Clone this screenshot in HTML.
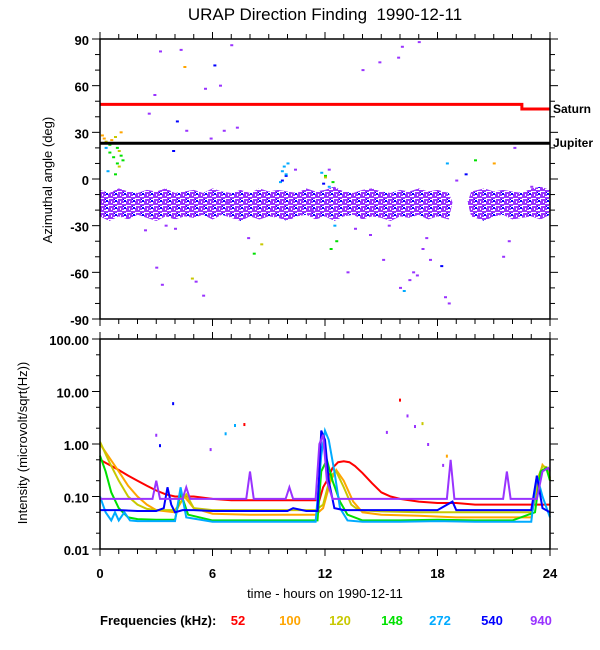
<!DOCTYPE html>
<html><head><meta charset="utf-8"><style>
html,body{margin:0;padding:0;background:#fff;}
svg{display:block;font-family:"Liberation Sans",Arial,sans-serif;}
</style></head><body>
<svg id="chart" width="600" height="650" viewBox="0 0 600 650" xmlns="http://www.w3.org/2000/svg">
<defs>
<pattern id="bandpat" width="9" height="7" patternUnits="userSpaceOnUse">
<rect x="0" y="0" width="9" height="7" fill="#fff"/>
<rect x="0" y="0" width="5" height="2" fill="#9933ff"/>
<rect x="5" y="1" width="4" height="2" fill="#9933ff"/>
<rect x="1" y="3" width="5" height="2" fill="#9933ff"/>
<rect x="7" y="4" width="2" height="2" fill="#0000ff"/>
<rect x="0" y="5" width="3" height="2" fill="#9933ff"/>
<rect x="4" y="5" width="3" height="2" fill="#9933ff"/>
<rect x="6" y="3" width="1" height="1" fill="#0000ff"/>
</pattern>
</defs>
<text x="325" y="20" font-size="17" text-anchor="middle" style="white-space:pre">URAP Direction Finding  1990-12-11</text>
<g id="topg"></g>
<g id="botg"></g>
<text transform="translate(52,180) rotate(-90)" font-size="13" text-anchor="middle">Azimuthal angle (deg)</text>
<text transform="translate(27,443) rotate(-90)" font-size="13" text-anchor="middle">Intensity (microvolt/sqrt(Hz))</text>
<text x="325" y="598" font-size="13" text-anchor="middle">time - hours on 1990-12-11</text>
<g id="legend"></g>
</svg>
<script>
const freqLabels=["52","100","120","148","272","540","940"];
const colors=["#ff0000","#ffa500","#c8c800","#00e000","#00aaff","#0000ff","#9933ff"];
const xTicks=[0,6,12,18,24];
const angTicks=[90,60,30,0,-30,-60,-90];
const intTicks=[100,10,1,0.1,0.01];
const intTickLabels=["100.00","10.00","1.00","0.10","0.01"];
const saturnH=[0,22.5,22.5,24];
const saturnDeg=[48,48,45,45];
const jupiterH=[0,24];
const jupiterDeg=[23,23];
const bandH=[0,0.5,1,1.5,2,2.5,3,3.5,4,4.5,5,5.5,6,6.5,7,7.5,8,8.5,9,9.5,10,10.5,11,11.5,12,12.5,13,13.5,14,14.5,15,15.5,16,16.5,17,17.5,18,18.6,18.8,19.6,19.8,20.5,21,21.5,22,22.5,23,23.5,24];
const bandLo=[-24,-27,-24,-26,-23,-25,-27,-24,-26,-24,-25,-23,-26,-23,-25,-27,-24,-26,-24,-25,-27,-24,-23,-26,-24,-27,-24,-23,-26,-24,-25,-27,-24,-25,-23,-26,-24,-26,-15,-15,-24,-27,-24,-23,-26,-25,-24,-26,-23];
const bandHi=[-7,-9,-6,-8,-9,-7,-8,-6,-9,-8,-7,-9,-6,-8,-9,-7,-9,-6,-8,-7,-8,-9,-6,-8,-7,-5,-8,-9,-7,-6,-8,-9,-7,-8,-6,-8,-7,-9,-15,-15,-8,-6,-8,-7,-8,-9,-6,-5,-7];
const ptH=[0.1,0.2,0.3,0.5,0.6,0.8,0.9,1.0,1.1,1.2,0.3,0.5,0.7,0.9,0.4,0.8,1.0,1.1,2.6,2.9,3.2,3.0,3.3,4.3,4.5,4.9,5.1,5.5,6.1,6.4,7.0,3.5,4.0,4.6,5.9,6.6,7.3,2.4,3.9,4.1,5.6,9.6,9.7,9.8,9.9,10.0,9.7,9.9,11.8,11.9,12.0,12.2,12.4,12.5,12.6,12.3,12.0,12.2,8.2,8.6,13.6,14.4,15.1,16.0,16.2,16.5,16.7,16.9,17.2,17.4,18.2,18.4,18.6,17.0,16.1,15.9,14.9,14.0,19.0,19.5,20.0,21.0,21.5,21.8,22.1,23.0,18.5,17.6,11.3,7.9,6.8,10.4,15.4,13.2];
const ptDeg=[28,26,24,22,25,27,20,18,15,12,20,17,14,10,5,3,8,30,42,54,82,-57,-68,83,72,-64,-66,-75,73,60,86,-30,-32,31,26,31,33,-33,18,37,58,-2,5,8,2,10,-1,3,4,-3,2,-5,-2,-30,-40,-45,1,6,-48,-42,-32,-36,-52,-70,-72,-65,-60,-62,-45,-38,-56,-76,-80,88,85,78,75,70,-1,3,12,10,-50,-40,20,-5,10,-52,-20,-38,-15,6,-30,-60];
const ptC=[1,1,2,3,1,2,3,2,3,3,4,3,3,3,4,3,2,1,6,6,6,6,6,6,1,2,6,6,5,6,6,6,6,6,6,6,6,6,5,5,6,4,4,4,5,4,5,4,4,5,3,4,3,4,3,3,2,6,3,2,6,6,6,6,4,6,6,6,6,6,5,6,6,6,6,6,6,6,6,5,3,1,6,6,6,6,4,6,6,6,6,6,6,6];
const redH=[0,0.5,1,1.5,2,2.5,3,3.5,4,5,6,7,8,9,10,11,11.7,11.9,12.1,12.4,12.7,13,13.3,13.6,14,14.5,15,15.5,16,17,18,19,20,21,22,23,23.5,24];
const redV=[0.5,0.4,0.32,0.25,0.2,0.16,0.13,0.11,0.1,0.1,0.09,0.085,0.085,0.085,0.085,0.085,0.085,0.15,0.2,0.35,0.45,0.47,0.45,0.38,0.28,0.18,0.12,0.1,0.09,0.08,0.075,0.075,0.07,0.07,0.07,0.07,0.07,0.07];
const orangeH=[0,0.5,1,1.5,2,2.5,3,4,4.5,5,6,8,10,11.5,11.9,12.3,12.6,13,13.5,14,15,17,19,21,23,23.3,23.6,23.9,24];
const orangeV=[1.0,0.55,0.3,0.16,0.1,0.07,0.055,0.05,0.1,0.06,0.047,0.045,0.045,0.045,0.06,0.2,0.32,0.2,0.08,0.05,0.045,0.043,0.04,0.04,0.04,0.15,0.4,0.3,0.2];
const yellowH=[0,0.5,1,1.5,2,2.5,3,4,4.6,5,6,8,10,11.5,11.9,12.3,12.6,13,13.4,13.8,15,17,19,21,23,23.3,23.6,23.9,24];
const yellowV=[1.1,0.45,0.2,0.1,0.07,0.058,0.055,0.055,0.11,0.06,0.055,0.055,0.055,0.055,0.07,0.25,0.3,0.15,0.07,0.055,0.052,0.05,0.05,0.05,0.05,0.2,0.38,0.35,0.22];
const greenH=[0,0.3,0.6,1,1.5,2,3,4,4.3,4.7,6,8,10,11.6,11.8,12.1,12.4,12.8,13.2,14,16,18,20,22,23.2,23.5,23.8,24];
const greenV=[0.6,0.3,0.12,0.06,0.04,0.037,0.036,0.036,0.12,0.045,0.035,0.035,0.035,0.035,0.3,0.5,0.2,0.08,0.045,0.035,0.035,0.036,0.035,0.035,0.05,0.3,0.35,0.2];
const cyanH=[0,0.3,0.6,0.8,1.0,1.3,1.6,2,3,4,4.3,4.6,6,8,10,11.5,11.8,12.0,12.2,12.5,12.8,13.2,14,16,18,20,22,23,23.3,23.6,23.9,24];
const cyanV=[0.1,0.05,0.035,0.05,0.035,0.05,0.035,0.034,0.034,0.034,0.15,0.04,0.033,0.033,0.033,0.033,0.6,1.8,1.2,0.3,0.06,0.035,0.033,0.033,0.034,0.033,0.033,0.033,0.25,0.1,0.05,0.04];
const blueH=[0,1,2,3,3.4,3.6,3.8,4,4.4,5,6,8,9,10,10.3,11,11.6,11.8,12.0,12.2,12.5,13,14,16,18,18.8,19,20,22,23,23.3,23.6,24];
const blueV=[0.055,0.055,0.053,0.053,0.06,0.15,0.07,0.05,0.055,0.055,0.053,0.053,0.053,0.053,0.06,0.053,0.053,1.8,1.2,0.2,0.06,0.055,0.055,0.055,0.055,0.08,0.055,0.055,0.055,0.055,0.25,0.06,0.05];
const purpleH=[0,2.8,3,3.2,4.4,4.6,4.8,7.8,8,8.2,9.9,10.1,10.3,11.5,11.7,11.9,12.1,12.4,14,16,18.5,18.7,18.9,21.5,21.7,21.9,23.3,23.6,23.9,24];
const purpleV=[0.09,0.09,0.2,0.09,0.09,0.15,0.09,0.09,0.3,0.09,0.09,0.15,0.09,0.09,1.0,1.5,0.2,0.09,0.09,0.09,0.09,0.5,0.09,0.09,0.3,0.09,0.09,0.3,0.35,0.3];
const intH=[redH,orangeH,yellowH,greenH,cyanH,blueH,purpleH];
const intV=[redV,orangeV,yellowV,greenV,cyanV,blueV,purpleV];
const ipH=[3.0,3.2,3.9,5.9,6.7,7.2,7.7,15.3,16.0,16.4,16.8,17.2,17.5,18.5,18.3];
const ipV=[1.5,0.95,6,0.8,1.6,2.3,2.4,1.7,7,3.5,2.2,2.5,1.0,0.6,0.4];
const ipC=[6,5,5,6,4,4,0,6,0,6,6,2,6,1,6];

const NS="http://www.w3.org/2000/svg";
const X0=100,X1=550;
const xs=h=>X0+h*(X1-X0)/24;
const T0=39,T1=319;
const ya=d=>T0+(90-d)*(T1-T0)/180;
const B0=339,B1=549;
const yi=v=>B1-(Math.log10(v)+2)*(B1-B0)/4;
function el(tag,attrs,parent){const e=document.createElementNS(NS,tag);for(const k in attrs)e.setAttribute(k,attrs[k]);parent.appendChild(e);return e;}
const topG=document.getElementById('topg'),botG=document.getElementById('botg'),leg=document.getElementById('legend');

let pts=[];
for(let i=0;i<bandH.length;i++)pts.push(xs(bandH[i])+','+ya(bandHi[i]));
for(let i=bandH.length-1;i>=0;i--)pts.push(xs(bandH[i])+','+ya(bandLo[i]));
const band=el('polygon',{points:pts.join(' '),fill:'url(#bandpat)'},topG);


const nPts=Math.min(ptH.length,ptDeg.length,ptC.length);
for(let i=0;i<nPts;i++){
 const r=el('rect',{x:xs(ptH[i])-1,y:ya(ptDeg[i])-1,width:3,height:2,fill:colors[ptC[i]]},topG);
 
 
}
const sat=el('polyline',{points:saturnH.map((h,i)=>xs(h)+','+ya(saturnDeg[i])).join(' '),fill:'none',stroke:'#ff0000','stroke-width':3},topG);


const jup=el('polyline',{points:jupiterH.map((h,i)=>xs(h)+','+ya(jupiterDeg[i])).join(' '),fill:'none',stroke:'#000','stroke-width':3},topG);


const st=el('text',{x:553,y:ya(45)+4,'font-size':12,'font-weight':'bold'},topG);st.textContent='Saturn';


const jt=el('text',{x:553,y:ya(23)+4,'font-size':12,'font-weight':'bold'},topG);jt.textContent='Jupiter';



for(let s=0;s<intH.length;s++){
 const pl=el('polyline',{points:intH[s].map((h,i)=>xs(h)+','+yi(intV[s][i])).join(' '),fill:'none',stroke:colors[s],'stroke-width':2},botG);
 
 
}
for(let i=0;i<ipH.length;i++){
 const r=el('rect',{x:xs(ipH[i])-1,y:yi(ipV[i])-1,width:2,height:3,fill:colors[ipC[i]]},botG);
 
 
}

function frame(g,y0,y1,name){
 const f=el('rect',{x:X0,y:y0,width:X1-X0,height:y1-y0,fill:'none',stroke:'#000','stroke-width':1.5},g);
 
 
 for(let h=0;h<=24;h++){
  const L=h%6===0?7:5;
  el('line',{x1:xs(h),x2:xs(h),y1:y0,y2:y0-L,stroke:'#000'},g);
  el('line',{x1:xs(h),x2:xs(h),y1:y1,y2:y1+L,stroke:'#000'},g);
 }
}
frame(topG,T0,T1,'angle-plot-frame');
frame(botG,B0,B1,'intensity-plot-frame');
for(let d=-90;d<=90;d+=10){
 const L=d%30===0?8:5;
 el('line',{x1:X0,x2:X0-L,y1:ya(d),y2:ya(d),stroke:'#000'},topG);
 el('line',{x1:X1,x2:X1+L,y1:ya(d),y2:ya(d),stroke:'#000'},topG);
}
angTicks.forEach(d=>{const t=el('text',{x:89,y:ya(d)+6,'font-size':13,'font-weight':'bold','text-anchor':'end'},topG);t.textContent=d;
 
 });
for(let e=-2;e<2;e++){for(let m=1;m<10;m++){const v=m*Math.pow(10,e);const L=m===1?8:4;
 if(m===1||m===2||m===5){el('line',{x1:X0,x2:X0-L,y1:yi(v),y2:yi(v),stroke:'#000'},botG);el('line',{x1:X1,x2:X1+L,y1:yi(v),y2:yi(v),stroke:'#000'},botG);}}}
el('line',{x1:X0,x2:X0-8,y1:yi(100),y2:yi(100),stroke:'#000'},botG);
el('line',{x1:X1,x2:X1+8,y1:yi(100),y2:yi(100),stroke:'#000'},botG);
intTicks.forEach((v,i)=>{const t=el('text',{x:89,y:yi(v)+6,'font-size':13,'font-weight':'bold','text-anchor':'end'},botG);t.textContent=intTickLabels[i];
 
 });
xTicks.forEach(h=>{const t=el('text',{x:xs(h),y:578,'font-size':13,'font-weight':'bold','text-anchor':'middle'},botG);t.textContent=h;
 
 });

const lt=el('text',{x:100,y:625,'font-size':13,'font-weight':'bold'},leg);lt.textContent='Frequencies (kHz):';


const legX=[238,290,340,392,440,492,541];
freqLabels.forEach((f,i)=>{const t=el('text',{x:legX[i],y:625,'font-size':13,'font-weight':'bold','text-anchor':'middle',fill:colors[i]},leg);t.textContent=f;
 
 });
</script>
</body></html>
